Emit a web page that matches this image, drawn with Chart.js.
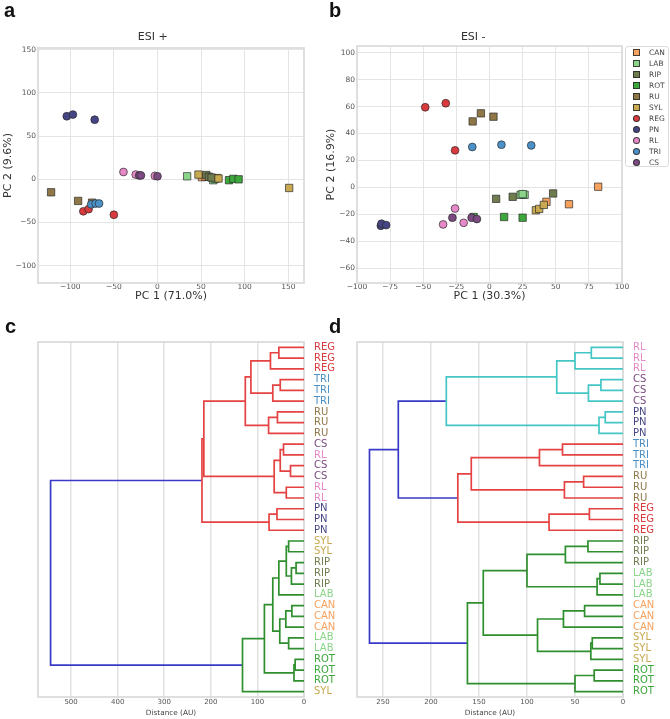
<!DOCTYPE html>
<html lang="en">
<head>
<meta charset="UTF-8">
<title>ESI PCA and dendrograms</title>
<script src="https://cdn.jsdelivr.net/npm/chart.js@4.4.1/dist/chart.umd.min.js"></script>
<style>
  body { margin: 0; background: #fff; }
  #fig { position: relative; width: 670px; height: 719px; overflow: hidden; font-family: "DejaVu Sans", sans-serif; }
  #fig canvas { position: absolute; }
  .tag { position: absolute; font: bold 20px "Liberation Sans", Arial, sans-serif; line-height: 20px; color: #111; }
  #legend { position: absolute; left: 625px; top: 46px; width: 44px; height: 121px; box-sizing: border-box;
            border: 1px solid #dcdcdc; border-radius: 3px; background: #fff; }
  .item { position: relative; height: 11px; line-height: 11px; font-size: 7.5px; color: #444; padding-left: 23px; }
  .mk { position: absolute; left: 7px; top: 2px; width: 7px; height: 7px; box-sizing: border-box;
        border: 0.8px solid rgba(40,40,40,.85); }
  .dot { border-radius: 50%; }
</style>
</head>
<body>
<div id="fig">
  <canvas id="pos" width="335" height="305" style="left:0;top:0"></canvas>
  <canvas id="neg" width="348" height="305" style="left:322px;top:0"></canvas>
  <canvas id="dendPos" width="335" height="389" style="left:0;top:330px"></canvas>
  <canvas id="dendNeg" width="335" height="389" style="left:335px;top:330px"></canvas>
  <div id="legend"></div>
  <div class="tag" style="left:4px;top:0">a</div>
  <div class="tag" style="left:329px;top:0">b</div>
  <div class="tag" style="left:5px;top:316px">c</div>
  <div class="tag" style="left:329px;top:316px">d</div>
</div>

<script>
    // groups, in legend order (first six drawn as squares)
    const groups = ['CAN', 'LAB', 'RIP', 'ROT', 'RU', 'SYL', 'REG', 'PN', 'RL', 'TRI', 'CS'];
    const samples = groups.flatMap(g => [g, g, g]);

    // PCA scores, ESI +
    const plusPC1 = [51, 55, 68,   34, 64, 66,   56, 59, 62,   82, 87, 93,   -122, -91, -75,
                     47, 70, 151,  -85, -79, -50, -104, -97, -72, -39, -25, -3, -76, -71, -67, -21, -19, 0];
    const plusPC2 = [2.5, 3, 1.5,  3.5, -1, 0.5, 5, 3, 2,      -1, 0.5, 0,   -15, -25, -27,
                     5.5, 1, -10,  -37, -34.5, -41, 73, 75, 69, 8.5, 5.5, 4, -29, -28, -28, 4.5, 4.5, 3.5];
    // PCA scores, ESI -
    const minusPC1 = [82, 60, 43,  23.5, 26.5, 25, 5, 17.5, 48, 11, 25, -12, -12.7, -6.5, 3,
                      35, 37.5, 41, -48.5, -33, -26, -82, -81.5, -78, -26, -35, -19.5, -13, 9, 31.5, -28, -13.5, -9.5];
    const minusPC2 = [0.5, -12.5, -10.7, -5.5, -5.5, -5, -8.5, -7, -4.5, -22, -22.5, -22, 49, 55, 52.5,
                      -17, -16, -13, 59.5, 62.5, 27.5, -28.5, -27, -28, -15.7, -27.5, -26.3, 30, 31.7, 31.2, -22.5, -22.5, -23.5];

    const plusXTicks = [-100, -50, 0, 50, 100, 150];
    const plusYTicks = [-100, -50, 0, 50, 100, 150];
    const minusXTicks = [-100, -75, -50, -25, 0, 25, 50, 75, 100];
    const minusYTicks = [-60, -40, -20, 0, 20, 40, 60, 80, 100];

    // dendrograms: leaves top to bottom, merges [childA, childB, distance, branch]
    // children < 33 are leaves, 33 + k is the k-th merge
    const plusLeaves = ['REG', 'REG', 'REG', 'TRI', 'TRI', 'TRI', 'RU', 'RU', 'RU', 'CS', 'RL', 'CS', 'CS', 'RL', 'RL',
                        'PN', 'PN', 'PN', 'SYL', 'SYL', 'RIP', 'RIP', 'RIP', 'LAB', 'CAN', 'CAN', 'CAN', 'LAB', 'LAB',
                        'ROT', 'ROT', 'ROT', 'SYL'];
    const plusMerges = [
        [0, 1, 54, 'r'], [33, 2, 72, 'r'], [3, 4, 51, 'r'], [35, 5, 67, 'r'], [34, 36, 114, 'r'],
        [6, 7, 57, 'r'], [38, 8, 76, 'r'], [37, 39, 126, 'r'], [9, 10, 44, 'r'], [11, 12, 29, 'r'],
        [41, 42, 51, 'r'], [13, 14, 38, 'r'], [43, 44, 64, 'r'], [15, 16, 58, 'r'], [46, 17, 75, 'r'],
        [40, 45, 215, 'r'], [48, 47, 219, 'r'],
        [18, 19, 33, 'g'], [20, 21, 17, 'g'], [51, 22, 27, 'g'], [50, 52, 38, 'g'], [53, 23, 54, 'g'],
        [24, 25, 26, 'g'], [55, 26, 39, 'g'], [27, 28, 33, 'g'], [56, 57, 52, 'g'], [54, 58, 67, 'g'],
        [29, 30, 19, 'g'], [60, 31, 21.5, 'g'], [59, 61, 85, 'g'], [62, 32, 132, 'g'],
        [49, 63, 544, 'b']
    ];
    const minusLeaves = ['RL', 'RL', 'RL', 'CS', 'CS', 'CS', 'PN', 'PN', 'PN', 'TRI', 'TRI', 'TRI', 'RU', 'RU', 'RU',
                         'REG', 'REG', 'REG', 'RIP', 'RIP', 'RIP', 'LAB', 'LAB', 'LAB', 'CAN', 'CAN', 'CAN',
                         'SYL', 'SYL', 'SYL', 'ROT', 'ROT', 'ROT'];
    const minusMerges = [
        [0, 1, 33, 'c'], [33, 2, 50, 'c'], [3, 4, 23, 'c'], [35, 5, 36, 'c'], [34, 36, 69, 'c'],
        [6, 7, 18.5, 'c'], [38, 8, 25, 'c'], [37, 39, 184, 'c'],
        [9, 10, 63, 'r'], [41, 11, 87, 'r'], [12, 13, 41, 'r'], [43, 14, 61, 'r'], [42, 44, 158, 'r'],
        [15, 16, 35, 'r'], [46, 17, 77, 'r'], [45, 47, 172, 'r'],
        [40, 48, 234, 'b'],
        [18, 19, 36.5, 'g'], [50, 20, 60, 'g'], [21, 22, 24, 'g'], [52, 23, 27, 'g'], [51, 53, 100, 'g'],
        [24, 25, 40, 'g'], [55, 26, 62, 'g'], [27, 28, 32, 'g'], [57, 29, 33.5, 'g'], [56, 58, 89, 'g'],
        [54, 59, 145.5, 'g'], [30, 31, 30, 'g'], [61, 32, 50, 'g'], [60, 62, 162, 'g'],
        [49, 63, 264, 'b']
    ];
    const plusDistTicks = [0, 100, 200, 300, 400, 500];
    const minusDistTicks = [0, 50, 100, 150, 200, 250];

    const fill = {
        CAN: '#f7a15e', LAB: '#8ad58a', RIP: '#6e7c4e', ROT: '#3ca83c', RU: '#8f7748', SYL: '#c8a94f',
        REG: '#d83a3e', PN: '#454585', RL: '#e589c8', TRI: '#4b90c6', CS: '#7b4a80'
    };
    const branch = { r: '#e54343', g: '#2f8f2f', c: '#45c6c6', b: '#3a3ac8' };

    Chart.defaults.font.family = '"DejaVu Sans", sans-serif';
    Chart.defaults.color = '#555';
    Chart.defaults.animation = false;

    const frame = {
        id: 'frame',
        beforeDatasetsDraw(chart) {
            const {ctx, chartArea: a} = chart;
            ctx.save();
            ctx.strokeStyle = '#dcdcdc';
            ctx.lineWidth = 1.8;
            ctx.strokeRect(a.left, a.top, a.right - a.left, a.bottom - a.top);
            ctx.restore();
        }
    };
    const minus = v => String(v).replace('-', '\u2212');
    const grid = {color: '#e4e4e4', lineWidth: 1, drawTicks: false};

    function pcaChart(id, pc1, pc2, o) {
        const datasets = groups.map((g, gi) => ({
            label: g,
            data: samples.map((s, i) => s === g ? {x: pc1[i], y: pc2[i]} : null).filter(Boolean),
            pointStyle: gi < 6 ? 'rect' : 'circle',
            pointRadius: gi < 6 ? 5.2 : 3.9,
            backgroundColor: fill[g],
            borderColor: 'rgba(40,40,40,0.85)',
            borderWidth: 0.8,
            order: groups.length - gi
        }));
        new Chart(id, {
            type: 'scatter',
            data: {datasets},
            options: {
                responsive: false,
                layout: {padding: o.pad},
                plugins: {
                    legend: {display: false},
                    tooltip: {enabled: false},
                    title: {display: true, text: o.title, color: '#333', font: {size: 11, weight: 'normal'},
                            padding: {top: 31, bottom: o.titleGap}}
                },
                scales: {
                    x: {
                        min: o.x[0], max: o.x[1],
                        afterBuildTicks: s => { s.ticks = o.xTicks.map(v => ({value: v})); },
                        ticks: {callback: minus, padding: 0, font: {size: 7.5}, maxRotation: 0},
                        grid, border: {display: false},
                        title: {display: true, text: o.xTitle, color: '#333', font: {size: 11}, padding: {top: 0, bottom: 2.4}},
                        afterFit: s => { s.height = 22; }
                    },
                    y: {
                        min: o.y[0], max: o.y[1],
                        afterBuildTicks: s => { s.ticks = o.yTicks.map(v => ({value: v})); },
                        ticks: {callback: minus, padding: 2, font: {size: 7.5}},
                        grid, border: {display: false},
                        title: {display: true, text: o.yTitle, color: '#333', font: {size: 11}, padding: {top: 0, bottom: 0}},
                        afterFit: s => { s.width = o.yW; }
                    }
                }
            },
            plugins: [frame]
        });
    }

    function links(leaves, merges) {
        const pos = leaves.map((_, i) => ({y: 5 + 10 * i, h: 0}));
        return merges.map(([a, b, h, c]) => {
            const A = pos[a], B = pos[b];
            pos.push({y: (A.y + B.y) / 2, h});
            return {c, data: [{x: A.h, y: A.y}, {x: h, y: A.y}, {x: h, y: B.y}, {x: B.h, y: B.y}]};
        });
    }

    function dendroChart(id, leaves, merges, o) {
        const datasets = links(leaves, merges).map(l => ({
            data: l.data, showLine: true, borderColor: branch[l.c], borderWidth: 1.7,
            pointRadius: 0, tension: 0
        }));
        new Chart(id, {
            type: 'scatter',
            data: {datasets},
            options: {
                responsive: false,
                layout: {padding: o.pad},
                plugins: {legend: {display: false}, tooltip: {enabled: false}},
                scales: {
                    x: {
                        min: 0, max: o.xMax, reverse: true,
                        afterBuildTicks: s => { s.ticks = o.ticks.map(v => ({value: v})); },
                        ticks: {font: {size: 7}, padding: 1, maxRotation: 0},
                        grid: {color: '#e2e2e2', lineWidth: 1.5, drawTicks: false}, border: {display: false},
                        title: {display: true, text: 'Distance (AU)', color: '#444', font: {size: 7.3}, padding: {top: 0, bottom: 1.6}},
                        afterFit: s => { s.height = 22; }
                    },
                    y: {
                        position: 'right', min: 0, max: 330, reverse: true,
                        afterBuildTicks: s => { s.ticks = leaves.map((_, i) => ({value: 5 + 10 * i})); },
                        ticks: {autoSkip: false, padding: 2, font: {size: 10},
                                callback: (v, i) => leaves[i], color: c => fill[leaves[c.index]]},
                        grid: {display: false}, border: {display: false},
                        afterFit: s => { s.width = o.yW; }
                    }
                }
            },
            plugins: [frame]
        });
    }

    pcaChart('pos', plusPC1, plusPC2, {
        title: 'ESI +', xTitle: 'PC 1 (71.0%)', yTitle: 'PC 2 (9.6%)',
        x: [-137, 168], y: [-120, 152], xTicks: plusXTicks, yTicks: plusYTicks,
        pad: {left: 1.4, right: 31, top: 0, bottom: 0}, yW: 36.6, titleGap: 3.8
    });
    pcaChart('neg', minusPC1, minusPC2, {
        title: 'ESI -', xTitle: 'PC 1 (30.3%)', yTitle: 'PC 2 (16.9%)',
        x: [-100, 100], y: [-71, 105], xTicks: minusXTicks, yTicks: minusYTicks,
        pad: {left: 2.4, right: 48, top: 0, bottom: 0}, yW: 32.6, titleGap: 1.8
    });
    dendroChart('dendPos', plusLeaves, plusMerges, {
        xMax: 571, ticks: plusDistTicks, pad: {left: 38, right: 0, top: 12, bottom: 0}, yW: 31
    });
    dendroChart('dendNeg', minusLeaves, minusMerges, {
        xMax: 277, ticks: minusDistTicks, pad: {left: 22, right: 0, top: 12, bottom: 0}, yW: 47
    });

    const legend = document.getElementById('legend');
    groups.forEach((g, gi) => {
        const row = document.createElement('div');
        row.className = 'item';
        const mk = document.createElement('span');
        mk.className = gi < 6 ? 'mk' : 'mk dot';
        mk.style.background = fill[g];
        row.append(mk, document.createTextNode(g));
        legend.append(row);
    });
</script>
</body>
</html>
